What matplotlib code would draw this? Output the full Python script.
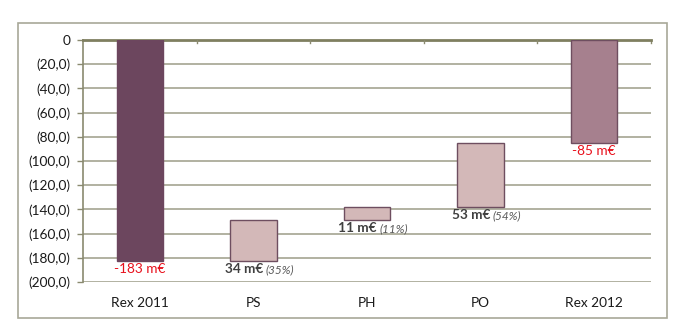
import numpy as np
import matplotlib
matplotlib.use('Agg')
import matplotlib.pyplot as plt
from matplotlib.patches import Rectangle

plt.rcParams['font.family'] = ['Lato', 'DejaVu Sans']

# data
categories = ['Rex 2011', 'PS', 'PH', 'PO', 'Rex 2012']
bar_top = [0, -149, -138, -85, 0]
bar_bottom = [-183, -183, -149, -138, -85]
main_labels = ['-183 m€', '34 m€', '11 m€', '53 m€', '-85 m€']
pct_labels = ['', '(35%)', '(11%)', '(54%)', '']
yticks = [0, -20, -40, -60, -80, -100, -120, -140, -160, -180, -200]

face_colors = ['#6C465E', '#D3B8B8', '#D3B8B8', '#D3B8B8', '#A6808E']
edge_colors = ['#6C465E', '#6E4E60', '#6E4E60', '#6E4E60', '#6E4E60']

fig = plt.figure(figsize=(6.94, 3.31), dpi=100)

# outer chart frame
fig.patches.append(Rectangle((18 / 694, 1 - 318 / 331), 649 / 694, 295 / 331,
                             transform=fig.transFigure, fill=False,
                             edgecolor='#A8A898', linewidth=1.2))

ax = fig.add_axes([83 / 694, 1 - 282 / 331, 568 / 694, 242 / 331])

x = np.arange(len(categories))
heights = [b - t for t, b in zip(bar_top, bar_bottom)]
ax.bar(x, heights, bottom=bar_top, width=0.41, color=face_colors,
       edgecolor=edge_colors, linewidth=1.0, zorder=3)

ax.set_xlim(-0.5, len(categories) - 0.5)
ax.set_ylim(-200, 0)

ax.set_yticks(yticks)
ax.set_yticklabels(['0' if v == 0 else '({:d},0)'.format(-v) for v in yticks],
                   fontsize=9.8, color='#1A1A1A')
ax.set_xticks(x)
ax.set_xticklabels(categories, fontsize=9.8, color='#1A1A1A')
ax.tick_params(axis='x', length=0, pad=11)
ax.tick_params(axis='y', length=4, width=1, color='#8A8A70', pad=5)

ax.grid(axis='y', color='#9C9C88', linewidth=1.1, zorder=0)
for s in ['right', 'bottom']:
    ax.spines[s].set_visible(False)
ax.spines['left'].set_color('#8A8A70')
ax.spines['left'].set_linewidth(1.2)
ax.spines['top'].set_color('#7F7F60')
ax.spines['top'].set_linewidth(2)

# category separator ticks on the zero line
for b in np.arange(0.5, len(categories) - 0.5, 1.0):
    ax.plot([b, b], [0, -2.5], color='#8A8A70', linewidth=1, zorder=4, clip_on=False)
ax.plot([len(categories) - 0.5] * 2, [0, -2.5], color='#8A8A70', linewidth=1, clip_on=False)

# value labels
for i in range(len(categories)):
    y = bar_bottom[i]
    if pct_labels[i] == '':
        ax.annotate(main_labels[i], (x[i], y), xytext=(0, -2), textcoords='offset pixels',
                    ha='center', va='top', fontsize=9.8, color='#E8101C')
    else:
        ax.annotate(main_labels[i], (x[i], y), xytext=(10, -2), textcoords='offset pixels',
                    ha='right', va='top', fontsize=9.8, fontweight='bold', color='#404040')
        ax.annotate(pct_labels[i], (x[i], y), xytext=(12, -3), textcoords='offset pixels',
                    ha='left', va='top', fontsize=8.5, fontstyle='italic', color='#595959')

fig.savefig('out.png', dpi=100)
